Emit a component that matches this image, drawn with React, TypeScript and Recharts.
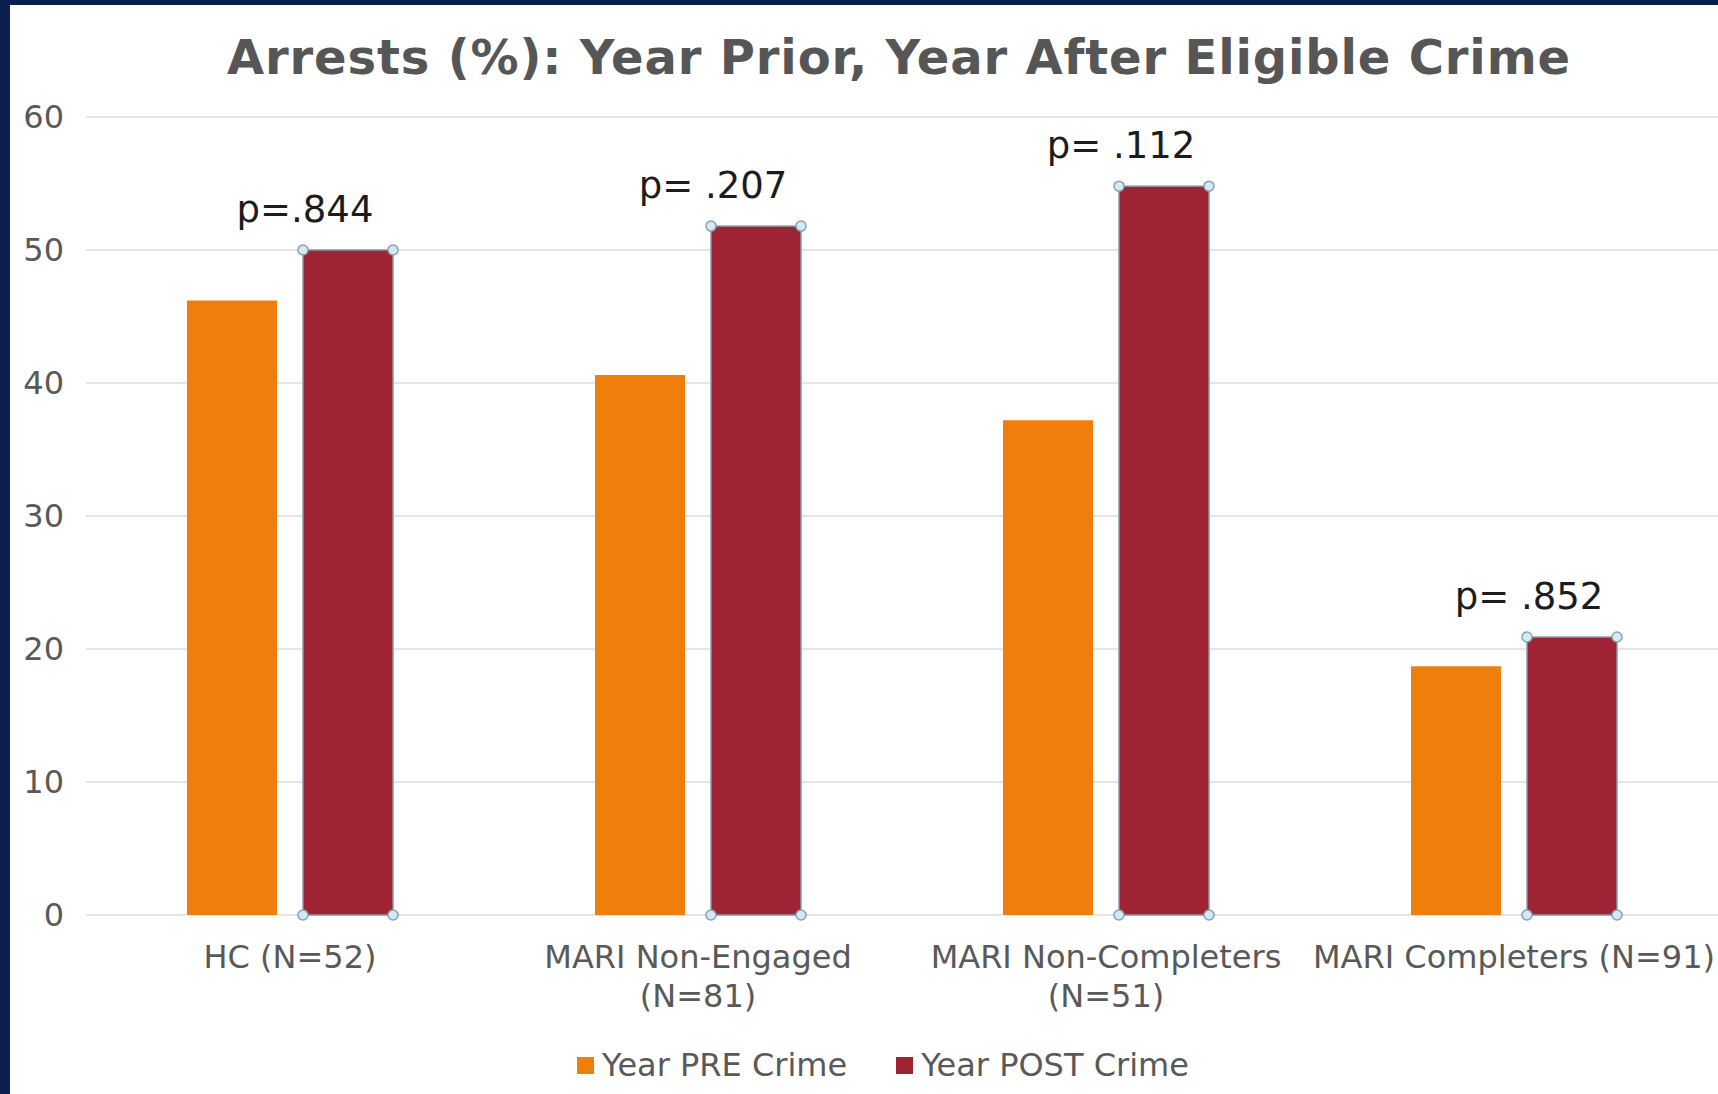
import React from 'react';
import { BarChart, Bar, XAxis, YAxis, CartesianGrid, Legend, LabelList } from 'recharts';

const categories = ['HC (N=52)', 'MARI Non-Engaged (N=81)', 'MARI Non-Completers (N=51)', 'MARI Completers (N=91)'];
const preCrime = [46.2, 40.6, 37.2, 18.7];
const postCrime = [50.0, 51.8, 54.8, 20.9];
const pValues = ['p=.844', 'p= .207', 'p= .112', 'p= .852'];
const yTicks = [0, 10, 20, 30, 40, 50, 60];
const seriesNames = ['Year PRE Crime', 'Year POST Crime'];
const titleText = 'Arrests (%): Year Prior, Year After Eligible Crime';

const COLORS = ['#EE7F0B', '#9E2335'];
const FONT = '"DejaVu Sans", Verdana, sans-serif';
const GREY = '#595959';
const TICK_FONT_SIZE = 32;
const WRAP_WIDTH = 404;

const data = categories.map((c, i) => ({ name: c, pre: preCrime[i], post: postCrime[i], p: pValues[i] }));

let measureCtx: CanvasRenderingContext2D | null = null;
function measure(text: string): number {
  if (!measureCtx) {
    const c = document.createElement('canvas');
    measureCtx = c.getContext('2d');
  }
  if (!measureCtx) return text.length * TICK_FONT_SIZE * 0.6;
  measureCtx.font = `${TICK_FONT_SIZE}px "DejaVu Sans", Verdana, sans-serif`;
  return measureCtx.measureText(text).width;
}

function wrap(text: string, maxWidth: number): string[] {
  const words = text.split(' ');
  const lines: string[] = [];
  let cur = '';
  for (const w of words) {
    const trial = cur ? cur + ' ' + w : w;
    if (cur && measure(trial) > maxWidth) {
      lines.push(cur);
      cur = w;
    } else {
      cur = trial;
    }
  }
  if (cur) lines.push(cur);
  return lines;
}

const PostBar = (props: any) => {
  const { x, y, width, height, fill } = props;
  const pts = [
    [x, y],
    [x + width, y],
    [x, y + height],
    [x + width, y + height],
  ];
  return (
    <g>
      <rect x={x} y={y} width={width} height={height} fill={fill} stroke="#8f99a3" strokeWidth={1.5} />
      {pts.map(([cx, cy], i) => (
        <circle key={i} cx={cx} cy={cy} r={5} fill="#d6e8f2" stroke="#7ea4bc" strokeWidth={1.5} />
      ))}
    </g>
  );
};

const PLabel = (props: any) => {
  const { x, y, value } = props;
  return (
    <text x={x + 2} y={y - 28} textAnchor="middle" fontSize={37} fill="#1c1c1c" fontFamily={FONT}>
      {value}
    </text>
  );
};

const CategoryTick = (props: any) => {
  const { x, y, payload } = props;
  const lines = wrap(String(payload.value), WRAP_WIDTH);
  return (
    <text x={x} y={y} textAnchor="middle" fill={GREY} fontSize={TICK_FONT_SIZE} fontFamily={FONT}>
      {lines.map((l, i) => (
        <tspan key={i} x={x} dy={i === 0 ? 20 : 39}>
          {l}
        </tspan>
      ))}
    </text>
  );
};

const renderLegend = () => (
  <div
    style={{
      width: 1708,
      height: 30,
      display: 'flex',
      justifyContent: 'center',
      alignItems: 'center',
      paddingLeft: 38,
      boxSizing: 'border-box',
      fontFamily: FONT,
      fontSize: 32,
      color: GREY,
    }}
  >
    {seriesNames.map((n, i) => (
      <div key={n} style={{ display: 'flex', alignItems: 'center', marginLeft: i ? 49 : 0 }}>
        <span style={{ width: 17, height: 17, background: COLORS[i], marginRight: 8, display: 'inline-block' }} />
        <span>{n}</span>
      </div>
    ))}
  </div>
);

export default function App() {
  return (
    <div style={{ position: 'absolute', left: 0, top: 0, width: 1718, height: 1094, background: '#0a1f4b' }}>
      <div style={{ position: 'absolute', left: 10, top: 5, width: 1708, height: 1089, background: '#ffffff' }}>
        <BarChart
          width={1708}
          height={1089}
          data={data}
          margin={{ top: 112, right: 0, bottom: 14, left: 0 }}
          barGap={26}
        >
          <CartesianGrid vertical={false} stroke="#dcdcdc" strokeWidth={1.5} />
          <XAxis
            dataKey="name"
            axisLine={false}
            tickLine={false}
            tickSize={0}
            tickMargin={33}
            height={135}
            interval={0}
            tick={<CategoryTick />}
          />
          <YAxis
            width={76}
            domain={[0, 60]}
            ticks={yTicks}
            axisLine={false}
            tickLine={false}
            tickSize={0}
            tickMargin={22}
            tick={{ fontSize: 32, fill: GREY, fontFamily: FONT }}
          />
          <Legend verticalAlign="bottom" content={renderLegend} />
          <Bar dataKey="pre" name={seriesNames[0]} fill={COLORS[0]} barSize={90} isAnimationActive={false} />
          <Bar
            dataKey="post"
            name={seriesNames[1]}
            fill={COLORS[1]}
            barSize={90}
            isAnimationActive={false}
            shape={<PostBar />}
          >
            <LabelList dataKey="p" content={<PLabel />} />
          </Bar>
        </BarChart>
        <svg
          width={1708}
          height={100}
          style={{ position: 'absolute', left: 0, top: 0, pointerEvents: 'none' }}
        >
          <text
            x={889}
            y={69}
            textAnchor="middle"
            fontSize={48}
            fontWeight="bold"
            fill="#565656"
            fontFamily={FONT}
            letterSpacing={0.85}
          >
            {titleText}
          </text>
        </svg>
      </div>
    </div>
  );
}
